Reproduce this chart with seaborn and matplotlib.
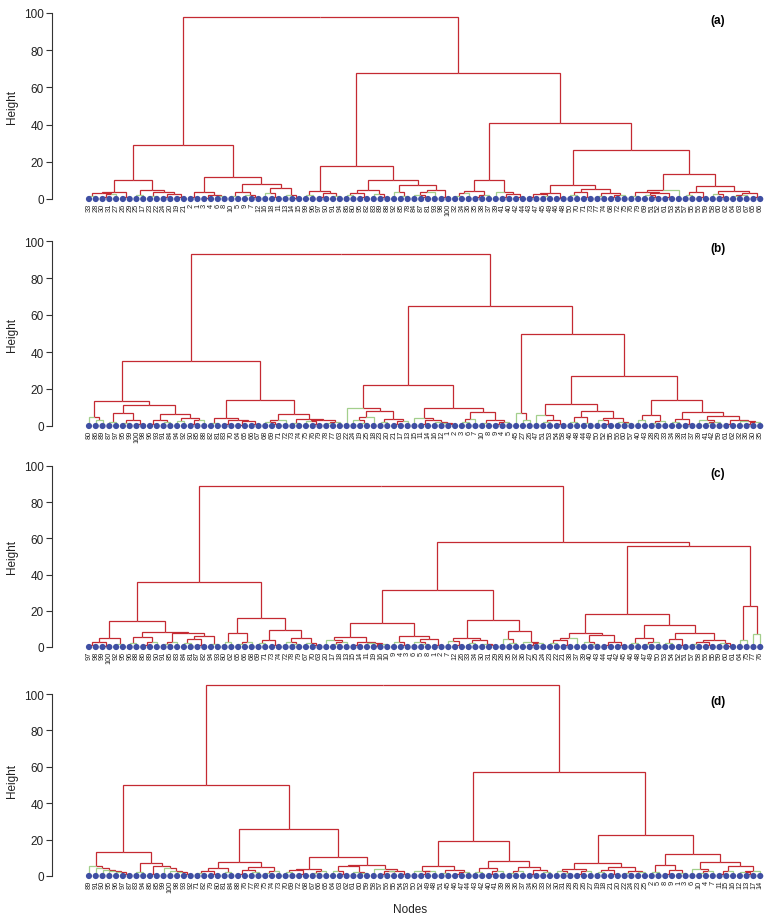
import numpy as np
import pandas as pd
import matplotlib
matplotlib.use("Agg")
import matplotlib.pyplot as plt
import seaborn as sns
from matplotlib.collections import LineCollection

sns.set_style("white")
plt.rcParams['font.family'] = ['Liberation Sans', 'DejaVu Sans']

# ---------------- data: leaf order and merge height between neighbouring leaves ----------------
labels_a = [33, 28, 30, 31, 27, 26, 29, 25, 17, 23, 22, 24, 20, 19, 21,
            2, 1, 3, 4, 6, 8, 10, 5, 9, 7, 12, 16, 18, 11, 13, 14, 15,
            99, 96, 97, 90, 91, 94, 86, 80, 95, 82, 83, 89, 88, 92, 85, 78, 84, 87, 81, 93, 98, 100,
            32, 34, 36, 35, 38, 37, 39, 41, 40, 42, 44,
            43, 47, 45, 49, 46, 48, 50, 70, 71, 73, 77, 74, 68, 72, 75,
            76, 79, 69, 51, 52, 61, 53, 54, 57, 55, 56, 59, 58, 60, 62, 64, 63, 67, 65, 66]
gaps_a = [1.5, 3, 1, 2.5, 3.5, 1, 10.4, 2, 5, 1.5, 4, 1, 2.5, 1.2,
          29,
          1, 3.5, 0.8, 2, 1.5, 12, 1.5, 4, 2.2, 1, 8, 3, 1, 6, 2, 0.8,
          98,
          2, 4.5, 1, 3, 1.5, 17.5, 2, 3, 1, 5, 2.5, 1, 10.4, 4, 1.5, 7.5, 2, 1, 3.5, 5, 1.2,
          68,
          1.5, 3, 4.5, 1, 2, 10, 3.5, 1, 2.5, 1.2,
          41,
          1, 2.5, 1.5, 3, 0.8, 7.5, 2, 4, 1, 5.5, 1.5, 3, 1, 2,
          26.5,
          1.5, 4, 2, 1, 3, 1, 5, 13.5, 2, 3.5, 1, 7, 2.5, 1, 4.5, 1.5, 2, 3, 1]

labels_b = [80, 86, 89, 87, 97, 95, 99, 100, 98, 96, 93, 91, 84, 94, 92, 90, 85, 88, 82, 81,
            83, 70, 64, 65, 66, 67, 68, 69, 71, 72, 73, 74, 75, 76, 79, 78, 77, 63,
            22, 24, 19, 25, 18, 23, 20, 21, 17, 13, 15, 11, 14, 16, 12, 1, 2, 3, 6, 7, 10, 8, 9, 4, 5,
            45, 27, 26,
            47, 51, 53, 54, 58, 46, 48, 44, 49, 50, 52, 55, 56, 60, 57,
            40, 43, 28, 29, 33, 34, 38, 31, 37, 39, 41, 42, 59, 61, 62, 32, 36, 30, 35]
gaps_b = [5, 3,
          13.5,
          2, 7, 1.5, 3.5, 1,
          11.5,
          1, 3, 2, 6.5, 2.5, 4.5, 1, 3,
          35,
          1.5, 4.5, 1, 3, 0.8, 2.5, 1.2,
          14,
          2, 1, 3.5, 6.5, 1.5, 4, 2.5, 1, 3, 1.5, 2,
          93,
          10,
          3, 1.5, 5, 8.3, 2, 4, 1, 2.5,
          22,
          4.5, 1, 3.5, 2, 1.5, 1,
          10,
          2, 4, 7.5, 1.5, 3, 1, 2,
          65,
          7, 3,
          50,
          6, 2, 3.5, 1, 12, 2, 5, 1.5, 8, 3, 1, 4.5, 2, 1.5,
          27,
          3, 6, 1.5, 2.5, 14, 2, 4, 1, 7.5, 3, 1.5, 2, 5.5, 1, 3.5, 2.5, 1, 2]

labels_c = [97, 98, 99, 100, 92, 95, 96, 88, 86, 89, 90, 91, 85, 83, 84, 81, 87, 82, 94, 93,
            80, 62, 65, 66, 68, 69, 71, 73, 74, 72, 78, 79, 67, 70, 63,
            20, 17, 18, 13, 15, 14, 11, 19, 16, 10, 9, 4, 3, 6, 5, 8, 1, 2,
            7, 12, 26, 33, 34, 30, 31, 29, 28, 35, 32, 36, 27, 25, 24,
            23, 22, 21, 38, 37, 39, 40, 43, 44, 41, 42, 45,
            46, 48, 47, 49, 50, 53, 54, 52, 51, 57, 58, 56, 55, 59, 60, 61,
            64, 75, 77, 76]
gaps_c = [1, 2.5, 0.8, 5, 1.5,
          14.5,
          2, 5.5, 1, 3,
          8.4,
          1.5, 3, 7.5, 2, 4.5, 1, 6, 1.5,
          36,
          3, 8, 1.5, 2.5,
          16,
          2, 4, 1, 9.5, 3, 1.5, 5, 2, 1,
          89,
          4, 1.5, 2.5, 5.5, 1, 3, 2, 0.8, 1.5,
          13,
          2.5, 1, 6, 3, 1.5, 4.5, 1,
          31.5,
          3.5, 1, 5, 2, 4, 1.5, 1,
          14.7,
          4.5, 2, 9, 3, 1, 2,
          58,
          2, 4, 1, 5, 8, 3, 1.5, 6.5, 1, 2.5, 1.2,
          18,
          2, 5, 1.5, 3,
          12.3,
          2, 4.5, 1,
          8,
          1.5, 3, 1, 4, 2, 0.8,
          56,
          4, 22.4, 7]

labels_d = [89, 91, 90, 95, 96, 97, 87, 83, 94, 86, 85, 99, 100, 98, 93, 92,
            71, 82, 79, 80, 81, 84, 88, 76, 77, 78, 75, 74, 73,
            70, 69, 72, 68, 67, 66, 65, 64, 63, 62, 61, 60, 59, 58, 57, 56, 55, 54, 53,
            50, 52, 49, 48, 51, 45, 46, 47, 44,
            43, 42, 40, 41, 39, 38, 36, 37, 34, 35, 33, 32,
            30, 31, 28, 29, 26, 27, 19, 18, 21, 20, 22, 24, 23, 25,
            2, 5, 8, 9, 1, 3, 6, 10, 4, 7, 11, 15, 16, 12, 13, 17, 14]
gaps_d = [5.5, 4.5, 3.5, 2.8, 2, 1.2,
          13.2,
          2, 7, 1, 5.5, 4.5, 3, 2, 1,
          50,
          1.5, 3, 1, 4.5, 2, 7.7, 1, 3.5, 2, 5, 1.5, 2.5,
          26,
          2, 3.5, 1, 4, 1.5, 2.5, 10.6, 3, 1, 5.5, 2, 1.5, 6, 4, 1, 2.5, 3, 1.2,
          105,
          3, 1, 2.5, 5.5, 1.5, 3.5, 1, 2,
          19.2,
          2, 4.5, 1, 3, 8.4, 1.5, 2.5, 5, 1, 3.5, 2,
          57,
          3, 1.5, 4, 1, 2.5, 7, 2, 3.5, 1, 5, 1.5, 3, 2,
          22.7,
          2, 6, 1, 3.5, 1.5,
          12,
          4, 1.5, 2.5, 7.5, 1, 3, 5.5, 2, 1, 3]

panel_names = ["(a)", "(b)", "(c)", "(d)"]
y_ticks = [0, 20, 40, 60, 80, 100]

# ---------------- style ----------------
RED = "#c42a32"
GREEN = "#a3cf8c"
BLUE = "#3f4fa3"
GREEN_MIN = 1.4

W, H = 765, 920
PX0, PXSTEP = 89.0, 6.78     # pixel x of first leaf and leaf spacing
AXL = 52.0                   # pixel x of the y axis

# (pixel y of height 0, pixels per unit, ylim top)
layout = [(200, 1.86, 104), (427, 1.85, 104), (648, 1.81, 104), (877, 1.82, 109)]


def build(gaps, lo, hi, segs):
    if lo == hi:
        return float(lo), 0.0, True
    k = lo + int(np.argmax(gaps[lo:hi]))
    xl, hl, leafl = build(gaps, lo, k, segs)
    xr, hr, leafr = build(gaps, k + 1, hi, segs)
    h = gaps[k]
    xm = (xl + xr) / 2
    cl = GREEN if (leafl and h >= GREEN_MIN) else RED
    cr = GREEN if (leafr and h >= GREEN_MIN) else RED
    segs.append(([(xl, hl), (xl, h), (xm, h)], cl))
    segs.append(([(xr, hr), (xr, h), (xm, h)], cr))
    return xm, h, False


fig = plt.figure(figsize=(W / 100, H / 100), dpi=100)

panels = [(labels_a, gaps_a), (labels_b, gaps_b), (labels_c, gaps_c), (labels_d, gaps_d)]
xlo = -(PX0 - AXL) / PXSTEP
xhi = xlo + (W - AXL) / PXSTEP

for p, ((labs, gaps), (y0, s, ytop)) in enumerate(zip(panels, layout)):
    ylo = -4
    top_px = y0 - ytop * s
    bot_px = y0 - ylo * s
    ax = fig.add_axes([AXL / W, 1 - bot_px / H, (W - AXL) / W, (bot_px - top_px) / H])
    ax.set_xlim(xlo, xhi)
    ax.set_ylim(ylo, ytop)

    segs = []
    build(np.asarray(gaps, dtype=float), 0, len(labs) - 1, segs)
    for col in (RED, GREEN):
        lc = LineCollection([sg for sg, c in segs if c == col], colors=col, linewidths=0.9,
                            capstyle="butt", joinstyle="miter", zorder=2)
        ax.add_collection(lc)

    df = pd.DataFrame({"pos": np.arange(len(labs)), "height": np.zeros(len(labs))})
    sns.scatterplot(data=df, x="pos", y="height", ax=ax, color=BLUE, s=20,
                    edgecolor="none", linewidth=0, legend=False, zorder=3, clip_on=False)

    for i, lab in enumerate(labs):
        ax.text(i, -2.0, str(lab), rotation=90, ha="center", va="top",
                fontsize=5.3, color="#222222", clip_on=False)

    ax.text(92.8, 96, panel_names[p], ha="center", va="center", fontsize=8.5,
            fontweight="bold", color="black")

    for side in ("top", "right", "bottom"):
        ax.spines[side].set_visible(False)
    ax.spines["left"].set_bounds(0, 100)
    ax.spines["left"].set_color("#333333")
    ax.spines["left"].set_linewidth(0.8)
    ax.set_yticks(y_ticks)
    ax.set_yticklabels([str(t) for t in y_ticks], fontsize=8.5, color="#222222")
    ax.tick_params(axis="y", direction="out", length=4, width=0.8, colors="#333333",
                   left=True, labelcolor="#222222", pad=2)
    ax.set_xticks([])
    ax.set_xlabel("")
    ax.set_ylabel("Height", fontsize=8.5, color="#222222", labelpad=4)
    ax.patch.set_alpha(0)

fig.text(410 / W, 1 - 910 / H, "Nodes", ha="center", va="center", fontsize=8.5, color="#222222")

fig.savefig("out.png", dpi=100, facecolor="white")
